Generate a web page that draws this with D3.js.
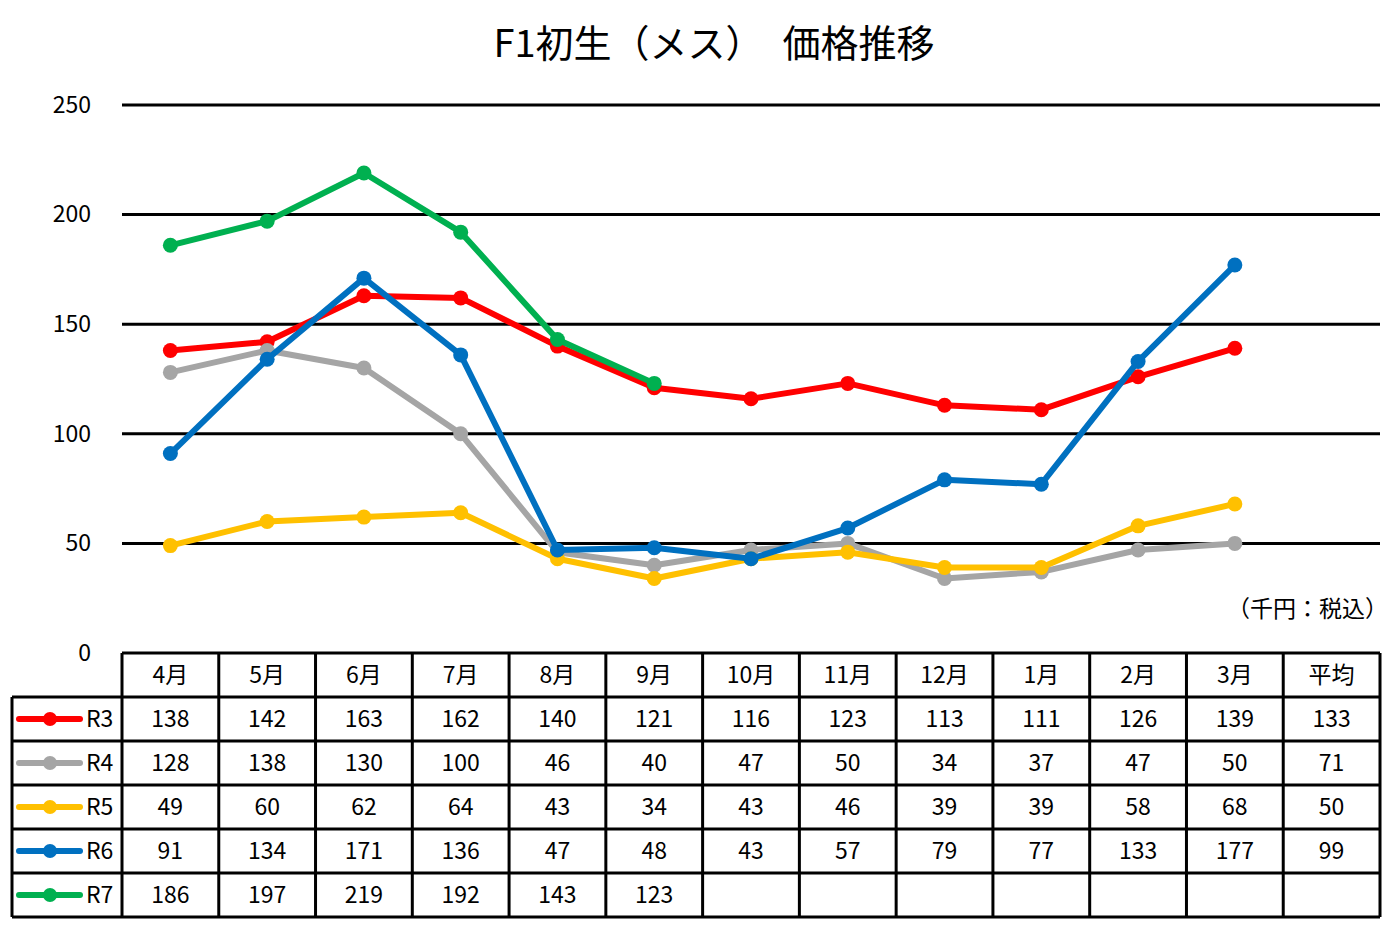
<!DOCTYPE html>
<html>
<head>
<meta charset="utf-8">
<script src="https://cdn.jsdelivr.net/npm/d3@7"></script>
<style>
  body { margin: 0; background: #fff; }
  text { font-family: "Noto Sans CJK JP", "Noto Sans", sans-serif; fill: #000; }
</style>
</head>
<body>
<div id="chart"></div>
<script>
// data
const months = ["4月", "5月", "6月", "7月", "8月", "9月", "10月", "11月", "12月", "1月", "2月", "3月"];
const avgLabel = "平均";
const seriesNames = ["R3", "R4", "R5", "R6", "R7"];
const seriesColors = ["#ff0000", "#a5a5a5", "#ffc000", "#0070c0", "#00b050"];
const r3 = [138, 142, 163, 162, 140, 121, 116, 123, 113, 111, 126, 139];
const r4 = [128, 138, 130, 100, 46, 40, 47, 50, 34, 37, 47, 50];
const r5 = [49, 60, 62, 64, 43, 34, 43, 46, 39, 39, 58, 68];
const r6 = [91, 134, 171, 136, 47, 48, 43, 57, 79, 77, 133, 177];
const r7 = [186, 197, 219, 192, 143, 123];
const averages = [133, 71, 50, 99, null];
const yTicks = [0, 50, 100, 150, 200, 250];

const series = [r3, r4, r5, r6, r7];

const svgWidth = 1392;
const svgHeight = 928;

const plotLeft = 122, plotRight = 1380;
const plotTop = 105, plotBottom = 653;
const rowH = 44;
const legendLeft = 12;
const fontSize = "23px";

const svg = d3.select("#chart").append("svg")
  .attr("width", svgWidth)
  .attr("height", svgHeight);

// title
svg.append("text")
  .attr("x", 714).attr("y", 57)
  .attr("text-anchor", "middle")
  .style("font-size", "38px")
  .text("F1初生（メス）　価格推移");

// scales
const cols = months.concat([avgLabel]);
const xBand = d3.scaleBand().domain(cols).range([plotLeft, plotRight]);
const yScale = d3.scaleLinear().domain([0, 250]).range([plotBottom, plotTop]);

// gridlines
svg.append("g").selectAll("line")
  .data(yTicks.filter(d => d > 0))
  .enter().append("line")
  .attr("x1", plotLeft).attr("x2", plotRight)
  .attr("y1", d => yScale(d)).attr("y2", d => yScale(d))
  .attr("stroke", "#000").attr("stroke-width", 3);

// y axis labels
const leftAxis = d3.axisLeft(yScale).tickValues(yTicks).tickSize(0).tickPadding(0);
const yAxisG = svg.append("g")
  .attr("transform", "translate(91,0)")
  .call(leftAxis);
yAxisG.select(".domain").remove();
yAxisG.selectAll("text")
  .style("font-size", fontSize)
  .style("font-family", "\"Noto Sans CJK JP\", sans-serif")
  .attr("fill", "#000");

// unit label
svg.append("text")
  .attr("x", 1388).attr("y", 617)
  .attr("text-anchor", "end")
  .style("font-size", fontSize)
  .text("（千円：税込）");

// lines
const xCenter = m => xBand(m) + xBand.bandwidth() / 2;
const line = d3.line()
  .x((d, i) => xCenter(months[i]))
  .y(d => yScale(d));

series.forEach(function (vals, s) {
  svg.append("path")
    .datum(vals)
    .attr("fill", "none")
    .attr("stroke", seriesColors[s])
    .attr("stroke-width", 6)
    .attr("stroke-linejoin", "round")
    .attr("d", line);
  svg.append("g").selectAll("circle")
    .data(vals)
    .enter().append("circle")
    .attr("cx", (d, i) => xCenter(months[i]))
    .attr("cy", d => yScale(d))
    .attr("r", 7.5)
    .attr("fill", seriesColors[s]);
});

// data table
const table = svg.append("g");
const tableBottom = plotBottom + rowH * (seriesNames.length + 1);

// header text
table.selectAll("text.head")
  .data(cols)
  .enter().append("text")
  .attr("class", "head")
  .attr("x", d => xCenter(d))
  .attr("y", plotBottom + rowH / 2 + 8)
  .attr("text-anchor", "middle")
  .style("font-size", fontSize)
  .text(d => d);

// rows
seriesNames.forEach(function (name, s) {
  const yTop = plotBottom + rowH * (s + 1);
  const yMid = yTop + rowH / 2;
  const vals = series[s].concat([averages[s]]);
  table.append("g").selectAll("text")
    .data(vals)
    .enter().append("text")
    .attr("x", (d, i) => xCenter(cols[i]))
    .attr("y", yMid + 8)
    .attr("text-anchor", "middle")
    .style("font-size", fontSize)
    .text(d => d == null ? "" : d);

  // legend key
  table.append("line")
    .attr("x1", 19).attr("x2", 80)
    .attr("y1", yMid).attr("y2", yMid)
    .attr("stroke", seriesColors[s])
    .attr("stroke-width", 6)
    .attr("stroke-linecap", "round");
  table.append("circle")
    .attr("cx", 50).attr("cy", yMid).attr("r", 7)
    .attr("fill", seriesColors[s]);
  table.append("text")
    .attr("x", 86).attr("y", yMid + 8)
    .style("font-size", fontSize)
    .text(name);
});

// table borders
const border = table.append("g")
  .attr("stroke", "#000").attr("stroke-width", 3).attr("fill", "none");
// horizontal lines
border.append("line")
  .attr("x1", plotLeft).attr("x2", plotRight)
  .attr("y1", plotBottom).attr("y2", plotBottom);
for (let r = 1; r <= seriesNames.length + 1; r++) {
  border.append("line")
    .attr("x1", legendLeft).attr("x2", plotRight)
    .attr("y1", plotBottom + rowH * r).attr("y2", plotBottom + rowH * r);
}
// vertical lines
cols.forEach(function (c) {
  border.append("line")
    .attr("x1", xBand(c)).attr("x2", xBand(c))
    .attr("y1", plotBottom).attr("y2", tableBottom);
});
border.append("line")
  .attr("x1", plotRight).attr("x2", plotRight)
  .attr("y1", plotBottom).attr("y2", tableBottom);
border.append("line")
  .attr("x1", legendLeft).attr("x2", legendLeft)
  .attr("y1", plotBottom + rowH).attr("y2", tableBottom);
</script>
</body>
</html>
